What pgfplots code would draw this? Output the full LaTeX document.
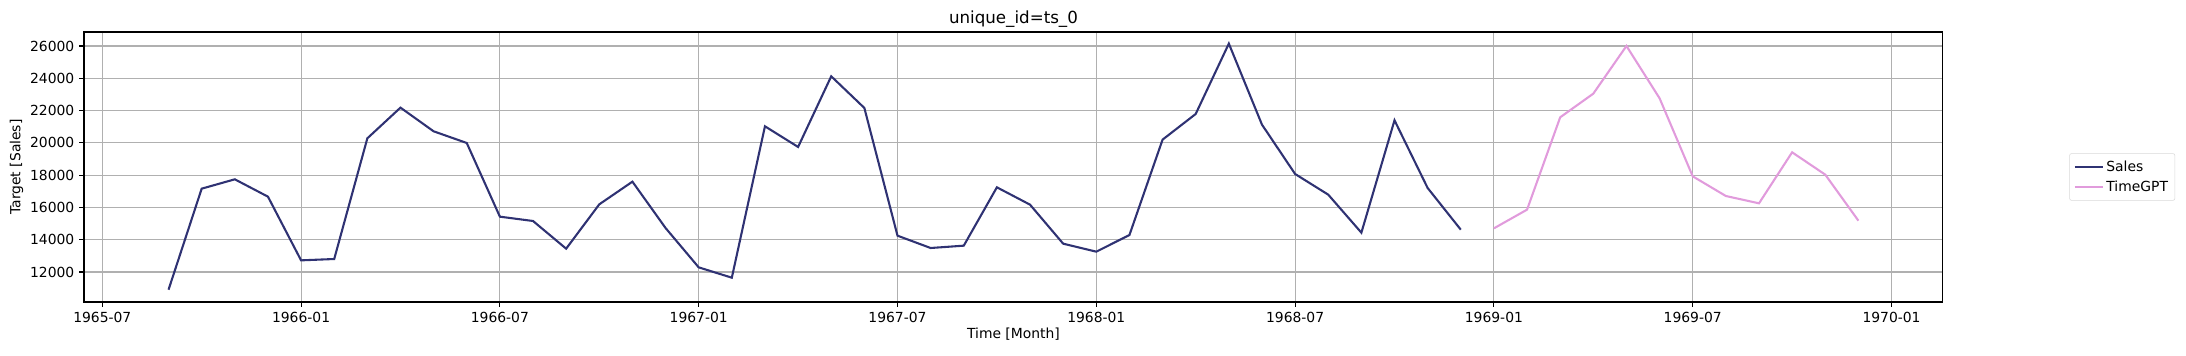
\documentclass[border=0pt]{standalone}
\usepackage{pgfplots}
\pgfplotsset{compat=1.18}
\usepackage{fontspec}
\setmainfont{DejaVu Sans}
\definecolor{salescol}{RGB}{47,50,115}
\definecolor{gptcol}{RGB}{225,155,220}
\definecolor{gridcol}{RGB}{176,176,176}
\begin{document}
\begin{tikzpicture}
\begin{axis}[
  scale only axis,
  width=1338pt, height=194.4pt,
  xmin=5.45, xmax=61.55,
  ymin=10142, ymax=26867,
  xtick={6,12,18,24,30,36,42,48,54,60},
  xticklabels={1965-07,1966-01,1966-07,1967-01,1967-07,1968-01,1968-07,1969-01,1969-07,1970-01},
  ytick={12000,14000,16000,18000,20000,22000,24000,26000},
  yticklabel style={/pgf/number format/.cd,fixed,1000 sep={}},
  /pgf/number format/assume math mode=true,
  scaled y ticks=false,
  tick label style={font=\fontsize{10}{12}\selectfont},
  label style={font=\fontsize{10}{12}\selectfont},
  title style={font=\fontsize{12}{14}\selectfont, yshift=-6pt},
  title={unique\_id=ts\_0},
  xlabel={Time [Month]},
  ylabel={Target [Sales]},
  xlabel style={yshift=3pt},
  ylabel style={yshift=-2pt},
  grid=major,
  major grid style={gridcol, line width=0.8pt},
  axis line style={black, line width=0.8pt},
  tick align=outside,
  xtick pos=bottom, ytick pos=left,
  major tick length=3.5pt,
  tick style={black, line width=0.8pt},
  legend style={at={(1.068,0.463)}, anchor=west, draw=gray!30, rounded corners=1.5pt, font=\fontsize{10}{12}\selectfont, row sep=1.5pt, inner sep=3pt},
  legend cell align=left,
  legend image code/.code={\draw[#1] (0pt,0pt) -- (20pt,0pt);},
]
\addplot[salescol, line width=1.5pt] coordinates {
(8,10906) (9,17162) (10,17741) (11,16667) (12,12723) (13,12806) (14,20280) (15,22180)
(16,20714) (17,19991) (18,15428) (19,15160) (20,13446) (21,16192) (22,17596) (23,14726)
(24,12289) (25,11649) (26,21024) (27,19744) (28,24121) (29,22159) (30,14251) (31,13487)
(32,13632) (33,17245) (34,16171) (35,13755) (36,13260) (37,14292) (38,20198) (39,21788)
(40,26145) (41,21127) (42,18071) (43,16791) (44,14437) (45,21395) (46,17204) (47,14623)
};
\addlegendentry{Sales}
\addplot[gptcol, line width=1.5pt] coordinates {
(48,14705) (49,15862) (50,21581) (51,23047) (52,26000) (53,22758) (54,17926) (55,16708)
(56,16254) (57,19413) (58,18030) (59,15180)
};
\addlegendentry{TimeGPT}
\coordinate (sw) at (rel axis cs:0,0);
\coordinate (ne) at (rel axis cs:1,1);
\end{axis}
\pgfresetboundingbox
\path[use as bounding box] ([xshift=-60.5pt,yshift=-38.2pt]sw) rectangle ([xshift=175pt,yshift=23pt]ne);
\end{tikzpicture}
\end{document}
